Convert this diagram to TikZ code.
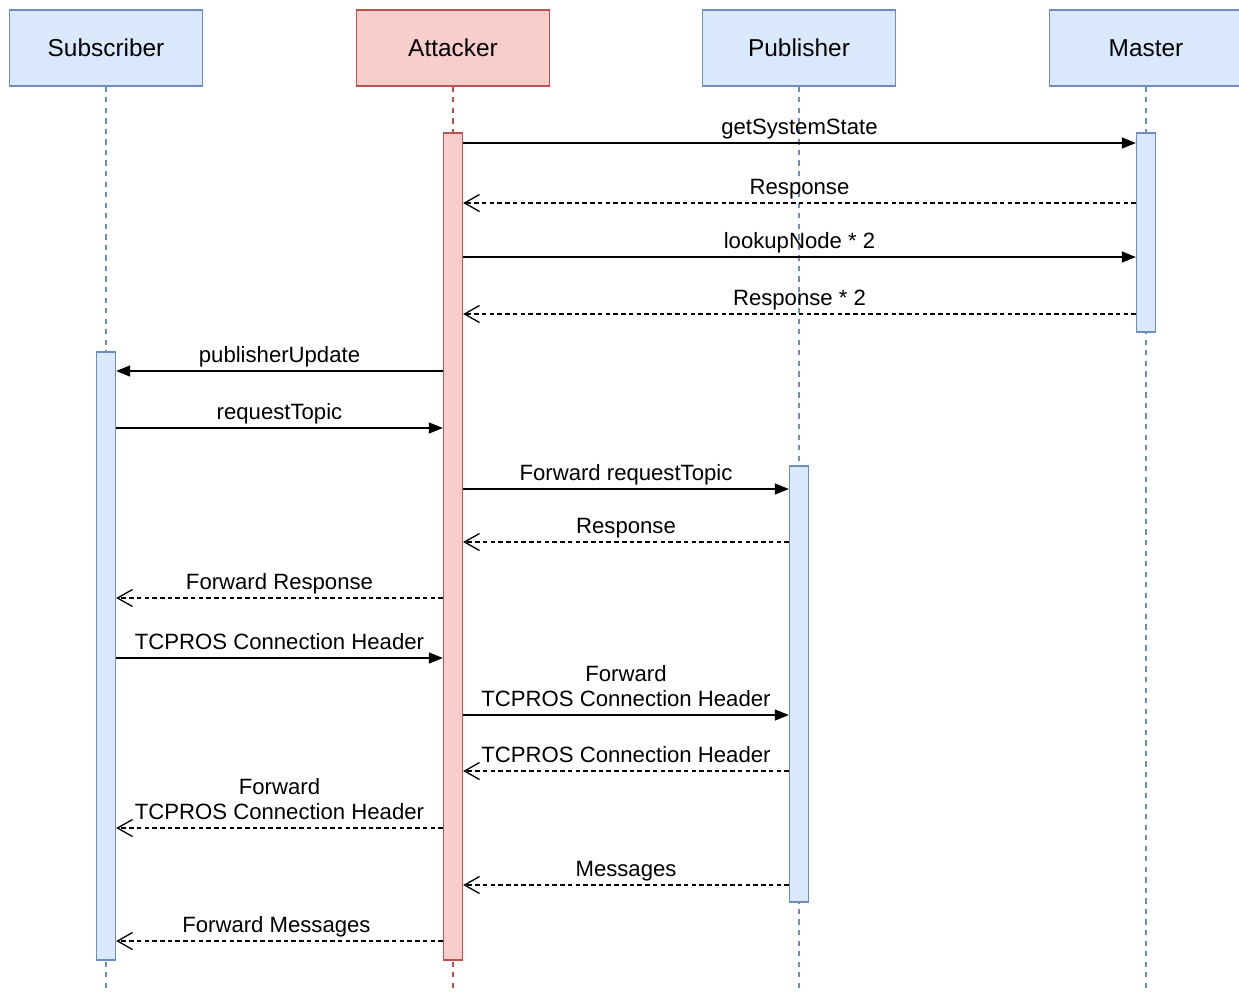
\documentclass[tikz,border=0pt]{standalone}
\usepackage{fontspec}
\setmainfont{Liberation Sans}
\usetikzlibrary{arrows.meta}
\definecolor{lblue}{HTML}{DAE8FC}
\definecolor{dblue}{HTML}{6C8EBF}
\definecolor{lred}{HTML}{F8CECC}
\definecolor{dred}{HTML}{B85450}
\begin{document}
\begin{tikzpicture}[x=0.02cm, y=-0.02cm,
    head/.style={line width=0.75pt, minimum width=3.86cm, minimum height=1.52cm, font=\fontsize{13.9}{16}\selectfont},
    bar/.style={line width=0.75pt, minimum width=0.38cm, inner sep=0pt},
    msg/.style={draw=black, line width=0.75pt, -{Triangle[length=0.28cm,width=0.22cm]}},
    reply/.style={draw=black, line width=0.75pt, dash pattern=on 2.6pt off 1.8pt, -{Straight Barb[length=0.3cm,width=0.34cm]}},
    lbl/.style={font=\fontsize{12.6}{14.4}\selectfont, align=center, inner sep=1pt, text depth=0pt}]
    \useasboundingbox (0,0) rectangle (1239,992);

    %% heads and dashed lifelines
    \foreach \n/\x/\c/\f/\t in
    {sub/106/dblue/lblue/Subscriber,
        att/453/dred/lred/Attacker,
        pub/799/dblue/lblue/Publisher,
        mas/1146/dblue/lblue/Master
    }
    {
        \coordinate (\n-end) at (\x,992);
        \node[head, draw=\c, fill=\f] (\n) at (\x,48) {\t};
        \draw[\c, line width=0.75pt, dash pattern=on 3pt off 3pt] (\n.south) -- (\n-end);
    };

    %% activation bars: name/x/top/bottom
    \foreach \n/\x/\c/\f/\t/\b in
    {sub/106/dblue/lblue/352/960,
        att/453/dred/lred/133/960,
        pub/799/dblue/lblue/466/902,
        mas/1146/dblue/lblue/133/332
    }
    {
        \node[bar, draw=\c, fill=\f, minimum height={(\b-\t)*0.02cm}] (act\n) at (\x,{(\t+\b)/2}) {};
    };

    %% messages: no/y/from/to/style/label
    \foreach \i/\y/\a/\b/\s/\t in
    {1/143/actatt.east/actmas.west/msg/getSystemState,
        2/203/actmas.west/actatt.east/reply/Response,
        3/257/actatt.east/actmas.west/msg/lookupNode * 2,
        4/314/actmas.west/actatt.east/reply/Response * 2,
        5/371/actatt.west/actsub.east/msg/publisherUpdate,
        6/428/actsub.east/actatt.west/msg/requestTopic,
        7/489/actatt.east/actpub.west/msg/Forward requestTopic,
        8/542/actpub.west/actatt.east/reply/Response,
        9/598/actatt.west/actsub.east/reply/Forward Response,
        10/658/actsub.east/actatt.west/msg/TCPROS Connection Header,
        11/715/actatt.east/actpub.west/msg/Forward\\TCPROS Connection Header,
        12/771/actpub.west/actatt.east/reply/TCPROS Connection Header,
        13/828/actatt.west/actsub.east/reply/Forward\\TCPROS Connection Header,
        14/885/actpub.west/actatt.east/reply/Messages,
        15/941/actatt.west/actsub.east/reply/Forward Messages
    }
    {
        \coordinate (m\i a) at (\a |- 0,\y);
        \coordinate (m\i b) at (\b |- 0,\y);
        \draw[\s] (m\i a) -- node[lbl, above=3.5pt] (l\i) {\t} (m\i b);
    };
\end{tikzpicture}
\end{document}
